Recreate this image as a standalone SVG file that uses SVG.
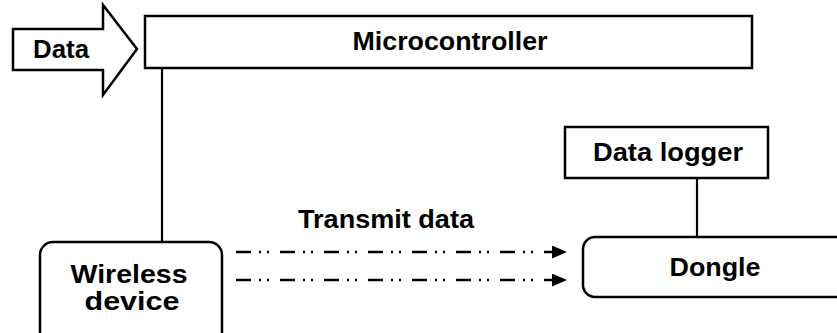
<svg xmlns="http://www.w3.org/2000/svg" width="837" height="333" viewBox="0 0 837 333">
<defs>
<style>
.box{fill:#fff;stroke:#000;stroke-width:2.5}
.ln{fill:none;stroke:#000;stroke-width:2.2}
.dd{fill:none;stroke:#000;stroke-width:2.5;stroke-dasharray:15 8 2 6 2 11}
.t{font-family:"Liberation Sans",Arial,sans-serif;font-weight:bold;font-size:25px;fill:#000;text-anchor:middle}
</style>
<marker id="ah" viewBox="0 0 10 10" refX="10" refY="5" markerWidth="15" markerHeight="13" markerUnits="userSpaceOnUse" orient="auto" preserveAspectRatio="none">
<path d="M0,0 L10,5 L0,10 Z" fill="#000"/>
</marker>
</defs>
<rect width="837" height="333" fill="#fff"/>
<g id="connectors">
<line class="ln" x1="162" y1="68" x2="162" y2="242"/>
<line class="ln" x1="697" y1="178" x2="697" y2="237"/>
<line class="dd" x1="236" y1="252" x2="567" y2="252" marker-end="url(#ah)"/>
<line class="dd" x1="236" y1="280" x2="567" y2="280" marker-end="url(#ah)"/>
<text class="t" x="386" y="228" textLength="176" lengthAdjust="spacingAndGlyphs">Transmit data</text>
</g>
<g id="data">
<path class="box" d="M13,29 L103,29 L103,5 L137,49 L103,95 L103,70 L13,70 Z"/>
<text class="t" x="61" y="58" textLength="56" lengthAdjust="spacingAndGlyphs">Data</text>
</g>
<g id="microcontroller">
<rect class="box" x="145" y="16" width="607" height="52"/>
<text class="t" x="450" y="50" textLength="195" lengthAdjust="spacingAndGlyphs">Microcontroller</text>
</g>
<g id="datalogger">
<rect class="box" x="565" y="127" width="203" height="51"/>
<text class="t" x="668" y="161" textLength="150" lengthAdjust="spacingAndGlyphs">Data logger</text>
</g>
<g id="wireless">
<rect class="box" x="40" y="242" width="182" height="105" rx="13" ry="13"/>
<text class="t" x="129" y="283" textLength="117" lengthAdjust="spacingAndGlyphs">Wireless</text>
<text class="t" x="132" y="310" textLength="95" lengthAdjust="spacingAndGlyphs">device</text>
</g>
<g id="dongle">
<rect class="box" x="583" y="237" width="270" height="60" rx="12" ry="12"/>
<text class="t" x="715" y="276" textLength="91" lengthAdjust="spacingAndGlyphs">Dongle</text>
</g>
</svg>
